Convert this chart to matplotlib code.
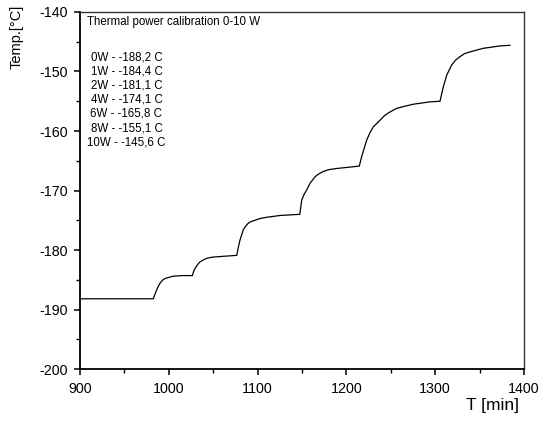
import matplotlib
matplotlib.use("Agg")
import matplotlib.pyplot as plt
from matplotlib.ticker import MultipleLocator

plt.rcParams['font.family'] = ['Liberation Sans', 'DejaVu Sans']
plt.rcParams['axes.unicode_minus'] = False

# temperature trace
t_min = [900, 982.5, 984.5, 986.4, 988.2, 990.1, 992.8, 995.7, 1000.0, 1005.1, 1015.0, 1026.5,
         1028.0, 1029.5, 1032.2, 1035.1, 1038.5, 1042.7, 1049.0, 1057.7, 1076.5,
         1078.2, 1080.2, 1083.9, 1086.5, 1089.5, 1093.0, 1097.1, 1103.0, 1110.2, 1125.2, 1147.5,
         1149.7, 1152.5, 1155.3, 1159.0, 1164.6, 1169.0, 1174.0, 1180.0, 1189.1, 1214.5,
         1217.2, 1222.9, 1226.5, 1230.3, 1237.8, 1243.0, 1249.1, 1256.6, 1264.1, 1275.3, 1294.1, 1305.4,
         1309.1, 1313.0, 1318.6, 1322.8, 1327.9, 1333.0, 1339.2, 1354.2, 1373.0, 1384.2]
temp = [-188.2, -188.2, -187.4, -186.7, -186.1, -185.6, -185.1, -184.8, -184.6, -184.4, -184.3, -184.3,
        -183.6, -183.1, -182.5, -182.0, -181.7, -181.4, -181.2, -181.1, -180.9,
        -179.6, -178.3, -176.6, -176.0, -175.5, -175.2, -175.0, -174.7, -174.5, -174.2, -174.0,
        -171.6, -170.6, -169.9, -168.8, -167.7, -167.2, -166.8, -166.5, -166.3, -165.9,
        -164.3, -161.5, -160.3, -159.3, -158.2, -157.4, -156.8, -156.2, -155.9, -155.5, -155.1, -155.0,
        -152.6, -150.6, -148.9, -148.1, -147.5, -147.0, -146.7, -146.1, -145.7, -145.6]

# calibration points
powers = ['0W', '1W', '2W', '4W', '6W', '8W', '10W']
levels = ['-188,2', '-184,4', '-181,1', '-174,1', '-165,8', '-155,1', '-145,6']

fig = plt.figure(figsize=(5.39, 4.23), dpi=100)
ax = fig.add_axes([80/539, 1-369/423, 444/539, 357/423])

ax.plot(t_min, temp, color='black', lw=0.9)

ax.set_xlim(900, 1400)
ax.set_ylim(-200, -140)
ax.xaxis.set_major_locator(MultipleLocator(100))
ax.xaxis.set_minor_locator(MultipleLocator(50))
ax.yaxis.set_major_locator(MultipleLocator(10))
ax.yaxis.set_minor_locator(MultipleLocator(5))
ax.tick_params(which='major', direction='out', length=4, width=1.1, labelsize=10.3)
ax.tick_params(which='minor', direction='out', length=3, width=1.0)
ax.tick_params(axis='y', pad=5)
ax.tick_params(axis='x', pad=5)
ax.tick_params(top=False, right=False)
for s in ['left', 'bottom']:
    ax.spines[s].set_linewidth(1.3)
for s in ['top', 'right']:
    ax.spines[s].set_linewidth(1.0)
    ax.spines[s].set_color('#333333')

fig.text(17/539, 1-37/423, 'Temp.[°C]', rotation=90, ha='center', va='center', fontsize=10.5)
fig.text(492/539, 1-405/423, 'T [min]', ha='center', va='center', fontsize=12.5)

fig.text(87/539, 1-22/423, 'Thermal power calibration 0-10 W', fontsize=8.3,
         ha='left', va='center')
lines = [p + ' - ' + v + ' C' for p, v in zip(powers, levels)]
fig.text(126.5/539, 1-51/423, '\n'.join(lines), fontsize=8.3, ha='center', va='top',
         multialignment='center', linespacing=1.25)

fig.savefig('out.png', dpi=100)
